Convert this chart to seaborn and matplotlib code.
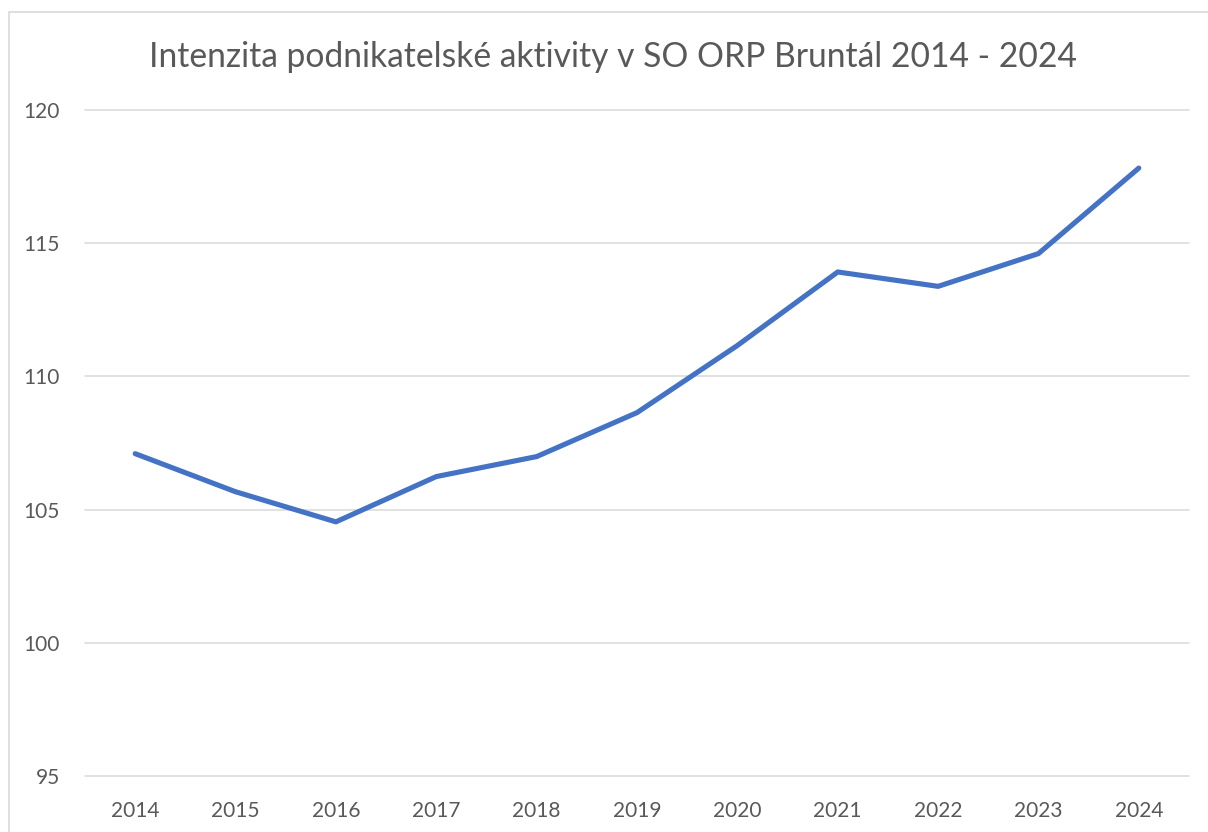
import matplotlib
matplotlib.use("Agg")
import matplotlib.pyplot as plt
import seaborn as sns
import pandas as pd
from matplotlib.patches import Rectangle

years = ["2014", "2015", "2016", "2017", "2018", "2019", "2020", "2021", "2022", "2023", "2024"]
values = [107.10, 105.67, 104.54, 106.24, 106.99, 108.64, 111.16, 113.92, 113.38, 114.61, 117.82]
y_ticks = [95, 100, 105, 110, 115, 120]
title = "Intenzita podnikatelské aktivity v SO ORP Bruntál 2014 - 2024"

sns.set_theme(style="white")
plt.rcParams["font.family"] = ["Lato", "DejaVu Sans"]

W, H, DPI = 1208, 832, 100
fig = plt.figure(figsize=(W / DPI, H / DPI), dpi=DPI)
fig.patch.set_facecolor("white")

ax = fig.add_axes([85 / W, 1 - 776 / H, (1189 - 85) / W, (776 - 110) / H])
df = pd.DataFrame({"year": years, "value": values})
sns.lineplot(data=df, x="year", y="value", ax=ax, color="#4472C4", linewidth=3.7,
             solid_capstyle="round", solid_joinstyle="round")

ax.set_xlim(-0.5, len(years) - 0.5)
ax.set_ylim(95, 120)
ax.set_yticks(y_ticks)
ax.set_yticklabels([str(t) for t in y_ticks])
ax.set_xlabel("")
ax.set_ylabel("")
for s in ax.spines.values():
    s.set_visible(False)
ax.grid(axis="y", color="#D9D9D9", linewidth=1.1)
ax.grid(axis="x", visible=False)
ax.set_axisbelow(True)
for gl in ax.get_ygridlines():
    gl.set_clip_on(False)
ax.tick_params(axis="both", length=0, labelsize=15, colors="#595959")
ax.tick_params(axis="y", pad=18)
ax.tick_params(axis="x", pad=18)

t = fig.text(613 / W, 1 - 57 / H, title, ha="center", va="center",
             fontsize=22, color="#595959")
fig.canvas.draw()
bb = t.get_window_extent()
t.set_fontsize(22 * 923 / bb.width)

fig.patches.append(Rectangle((8.5 / W, -0.1), 1.2, 1 - 11.5 / H + 0.1,
                             transform=fig.transFigure, fill=False,
                             edgecolor="#D9D9D9", linewidth=1.2, clip_on=False))

fig.savefig("out.png", dpi=DPI)
